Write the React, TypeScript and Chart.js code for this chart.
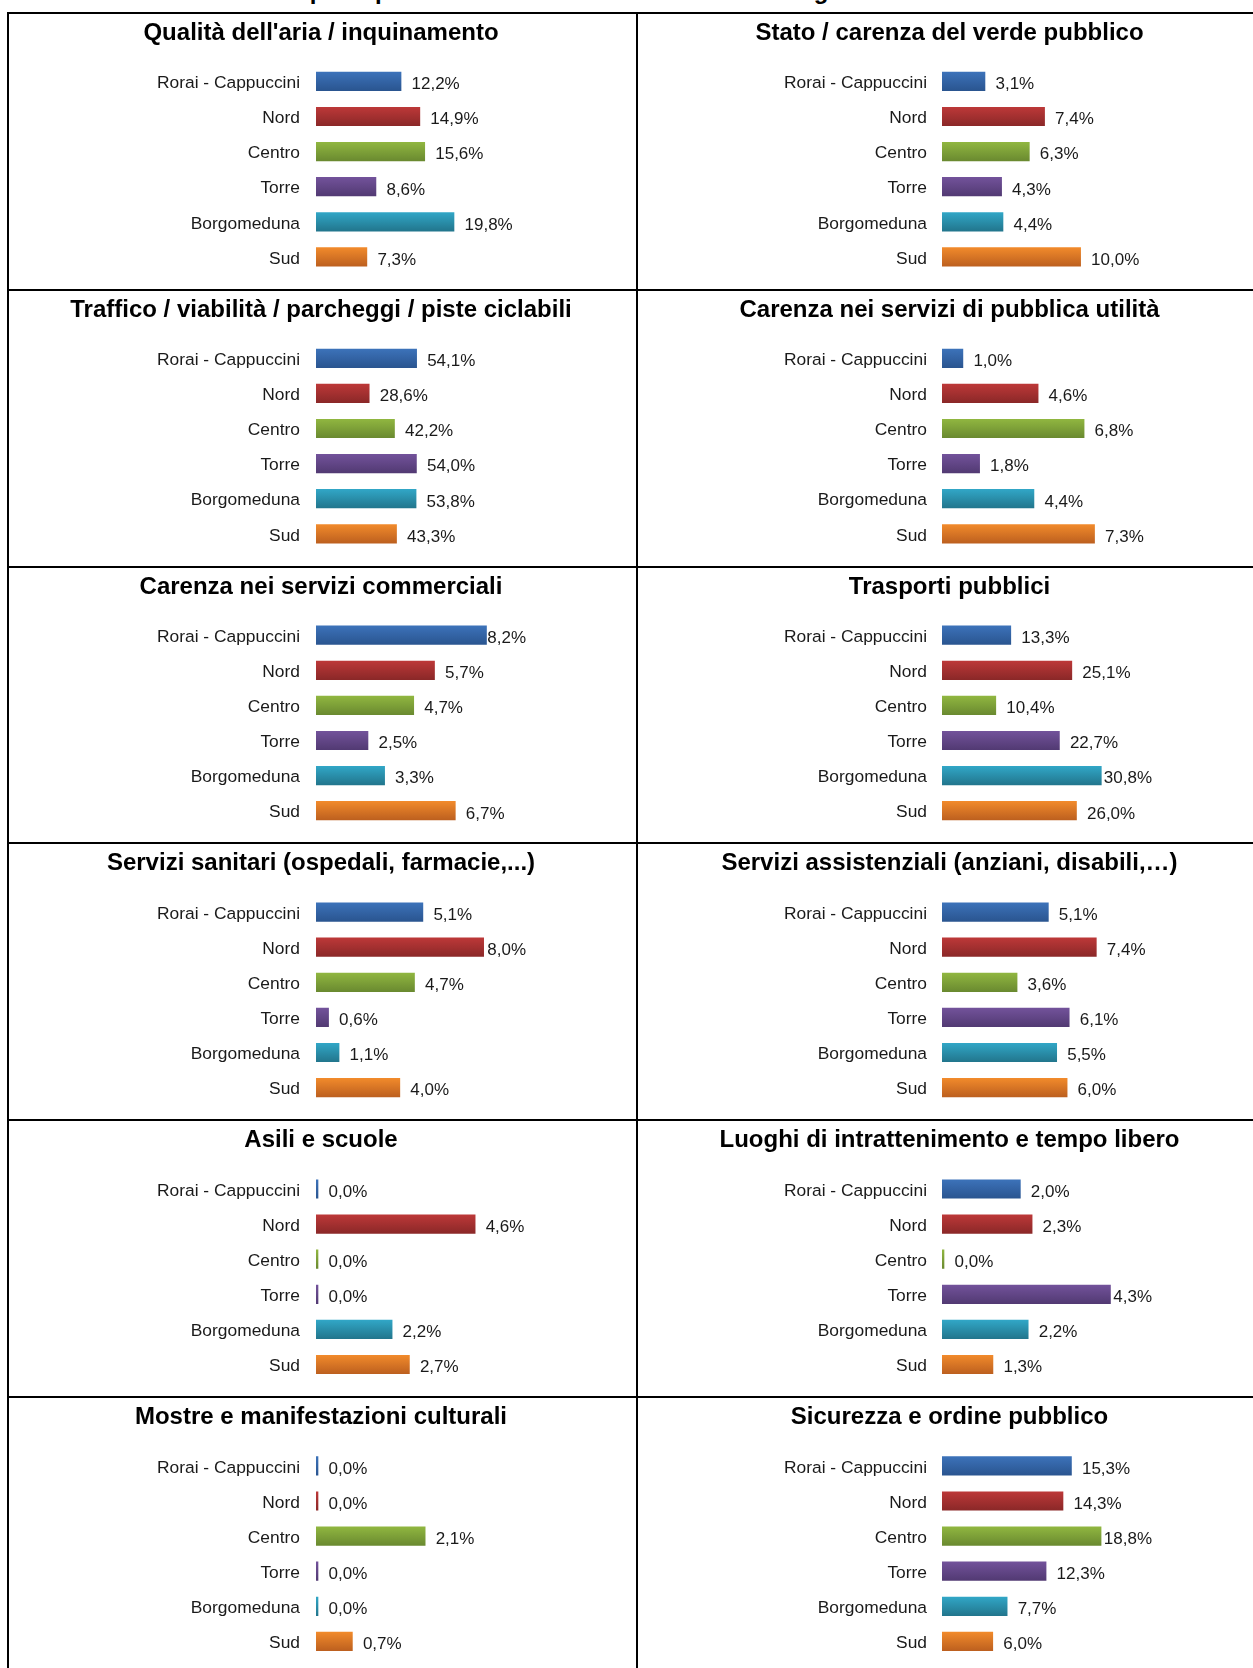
import React, { useEffect, useRef } from "react";
import { Chart, registerables } from "chart.js";

Chart.register(...registerables);

// ---------- data ----------
const CATEGORIES = ["Rorai - Cappuccini", "Nord", "Centro", "Torre", "Borgomeduna", "Sud"];

const PAGE_TITLE = "Le principali criticità del territorio nelle zone: il giudizio dei residenti";

const PANEL_TITLES = [
  "Qualità dell'aria / inquinamento",
  "Stato / carenza del verde pubblico",
  "Traffico / viabilità / parcheggi / piste ciclabili",
  "Carenza nei servizi di pubblica utilità",
  "Carenza nei servizi commerciali",
  "Trasporti pubblici",
  "Servizi sanitari (ospedali, farmacie,...)",
  "Servizi assistenziali (anziani, disabili,…)",
  "Asili e scuole",
  "Luoghi di intrattenimento e tempo libero",
  "Mostre e manifestazioni culturali",
  "Sicurezza e ordine pubblico",
];

const QUALITA_ARIA = [12.2, 14.9, 15.6, 8.6, 19.8, 7.3];
const VERDE_PUBBLICO = [3.1, 7.4, 6.3, 4.3, 4.4, 10.0];
const TRAFFICO = [54.1, 28.6, 42.2, 54.0, 53.8, 43.3];
const SERVIZI_PUBBLICA_UTILITA = [1.0, 4.6, 6.8, 1.8, 4.4, 7.3];
const SERVIZI_COMMERCIALI = [8.2, 5.7, 4.7, 2.5, 3.3, 6.7];
const TRASPORTI_PUBBLICI = [13.3, 25.1, 10.4, 22.7, 30.8, 26.0];
const SERVIZI_SANITARI = [5.1, 8.0, 4.7, 0.6, 1.1, 4.0];
const SERVIZI_ASSISTENZIALI = [5.1, 7.4, 3.6, 6.1, 5.5, 6.0];
const ASILI_SCUOLE = [0.0, 4.6, 0.0, 0.0, 2.2, 2.7];
const INTRATTENIMENTO = [2.0, 2.3, 0.0, 4.3, 2.2, 1.3];
const MOSTRE = [0.0, 0.0, 2.1, 0.0, 0.0, 0.7];
const SICUREZZA = [15.3, 14.3, 18.8, 12.3, 7.7, 6.0];

const PANEL_VALUES = [
  QUALITA_ARIA,
  VERDE_PUBBLICO,
  TRAFFICO,
  SERVIZI_PUBBLICA_UTILITA,
  SERVIZI_COMMERCIALI,
  TRASPORTI_PUBBLICI,
  SERVIZI_SANITARI,
  SERVIZI_ASSISTENZIALI,
  ASILI_SCUOLE,
  INTRATTENIMENTO,
  MOSTRE,
  SICUREZZA,
];

// x-axis maximum (%) of each panel's own scale
const AXIS_MAX = [30.13, 15.15, 112.9, 10.05, 10.1, 40.6, 10.02, 10.07, 6.07, 5.36, 4.04, 24.82];

// ---------- styles ----------
const BAR_TOP = ["#3c72b9", "#bc3838", "#90b640", "#72529a", "#31a6c6", "#f18a2b"];
const BAR_BOTTOM = ["#2a5590", "#8b2828", "#6a8a30", "#523a73", "#22768d", "#bd601f"];
const FONT = "'Liberation Sans', Arial, Helvetica, sans-serif";
const TEXT_COLOR = "#1a1a1a";

// ---------- layout ----------
const LINE_CENTER0 = 12.7;
const ROW_PITCH = 276.9;
const LEFT_LINE_X = 7;
const MID_LINE_X = 636;
const CANVAS_H = 275;
const PLOT_W = 210;
const BAND = 35.1;
const BAR_H = 18.5;

function fmt(v: number) {
  return v.toFixed(1).replace(".", ",") + "%";
}

function geometry(index: number) {
  const col = index % 2;
  const row = Math.floor(index / 2);
  const lineCenter = LINE_CENTER0 + ROW_PITCH * row;
  const lineTop = Math.round(lineCenter - 1);
  const top = lineTop + 2;
  const left = col === 0 ? LEFT_LINE_X + 2 : MID_LINE_X + 2;
  const width = 627;
  const chartLeft = col === 0 ? 316 - left : 942 - left;
  const titleX = col === 0 ? 321 - left : 949.5 - left;
  const padTop = lineCenter + 68.7 - BAND / 2 - top;
  const titleY = lineCenter + 27 - top;
  const tickPad = col === 0 ? 16 : 15;
  return { left, top, width, chartLeft, titleX, padTop, titleY, tickPad };
}

function Panel({ index }: { index: number }) {
  const ref = useRef<HTMLCanvasElement | null>(null);
  const g = geometry(index);

  useEffect(() => {
    const canvas = ref.current;
    if (!canvas) return;
    const values = PANEL_VALUES[index];
    const title = PANEL_TITLES[index];

    const decor = {
      id: "panelDecor" + index,
      afterDatasetsDraw(chart: any) {
        const ctx = chart.ctx;
        const meta = chart.getDatasetMeta(0);
        const limit = chart.chartArea.left + PLOT_W;
        ctx.save();
        ctx.font = `17px ${FONT}`;
        ctx.fillStyle = TEXT_COLOR;
        ctx.textAlign = "left";
        ctx.textBaseline = "alphabetic";
        meta.data.forEach((bar: any, i: number) => {
          const txt = fmt(values[i]);
          const w = ctx.measureText(txt).width;
          let x = bar.x + 10.5;
          if (x + w > limit) x = Math.max(bar.x + 0.5, limit - w);
          ctx.fillText(txt, x, bar.y + 7.8);
        });
        ctx.restore();
      },
      afterDraw(chart: any) {
        const ctx = chart.ctx;
        ctx.save();
        ctx.font = `bold 24px ${FONT}`;
        ctx.fillStyle = "#000000";
        ctx.textAlign = "center";
        ctx.textBaseline = "alphabetic";
        ctx.fillText(title, g.titleX, g.titleY);
        ctx.restore();
      },
    };

    const chart = new Chart(canvas, {
      type: "bar",
      data: {
        labels: CATEGORIES,
        datasets: [
          {
            data: values,
            backgroundColor: (c: any) => {
              const ch = c.chart;
              const i = c.dataIndex;
              if (!ch.chartArea || i === undefined || !ch.scales.y) return BAR_TOP[0];
              const y = ch.scales.y.getPixelForValue(i);
              const grad = ch.ctx.createLinearGradient(0, y - BAR_H / 2, 0, y + BAR_H / 2);
              grad.addColorStop(0, BAR_TOP[i]);
              grad.addColorStop(1, BAR_BOTTOM[i]);
              return grad;
            },
            borderWidth: 0,
            barThickness: BAR_H,
            minBarLength: 2,
          },
        ],
      },
      options: {
        indexAxis: "y",
        responsive: false,
        maintainAspectRatio: false,
        devicePixelRatio: 1,
        animation: false,
        events: [],
        layout: {
          padding: {
            left: 0,
            top: g.padTop,
            bottom: CANVAS_H - g.padTop - BAND * 6,
            right: g.width - g.chartLeft - PLOT_W,
          },
        },
        plugins: {
          legend: { display: false },
          tooltip: { enabled: false },
          title: { display: false },
        },
        scales: {
          x: {
            display: false,
            min: 0,
            max: AXIS_MAX[index],
          },
          y: {
            display: true,
            offset: true,
            grid: { display: false, drawTicks: false, tickLength: 0 },
            border: { display: false },
            ticks: {
              autoSkip: false,
              padding: g.tickPad,
              labelOffset: 2,
              color: TEXT_COLOR,
              font: { family: FONT, size: 17.4 },
            },
            afterFit: (scale: any) => {
              scale.width = g.chartLeft;
              scale.paddingTop = 0;
              scale.paddingBottom = 0;
            },
          },
        },
      } as any,
      plugins: [decor],
    } as any);

    return () => chart.destroy();
  }, [index]);

  return (
    <canvas
      ref={ref}
      width={g.width}
      height={CANVAS_H}
      style={{ position: "absolute", left: g.left, top: g.top, width: g.width, height: CANVAS_H, display: "block" }}
    />
  );
}

export default function App() {
  const hLines = [0, 1, 2, 3, 4, 5].map((r) => Math.round(LINE_CENTER0 + ROW_PITCH * r - 1));
  return (
    <div
      style={{
        position: "absolute",
        left: 0,
        top: 0,
        width: 1253,
        height: 1668,
        overflow: "hidden",
        background: "#ffffff",
        fontFamily: FONT,
      }}
    >
      <div
        style={{
          position: "absolute",
          left: 275,
          top: -21,
          fontWeight: "bold",
          fontSize: 24,
          lineHeight: "24px",
          whiteSpace: "nowrap",
          color: "#000",
        }}
      >
        {PAGE_TITLE}
      </div>
      {PANEL_TITLES.map((_, i) => (
        <Panel key={i} index={i} />
      ))}
      {hLines.map((y, i) => (
        <div
          key={"h" + i}
          style={{ position: "absolute", left: LEFT_LINE_X, top: y, width: 1253 - LEFT_LINE_X, height: 2, background: "#000" }}
        />
      ))}
      <div style={{ position: "absolute", left: LEFT_LINE_X, top: hLines[0], width: 2, height: 1668, background: "#000" }} />
      <div style={{ position: "absolute", left: MID_LINE_X, top: hLines[0], width: 2, height: 1668, background: "#000" }} />
    </div>
  );
}
